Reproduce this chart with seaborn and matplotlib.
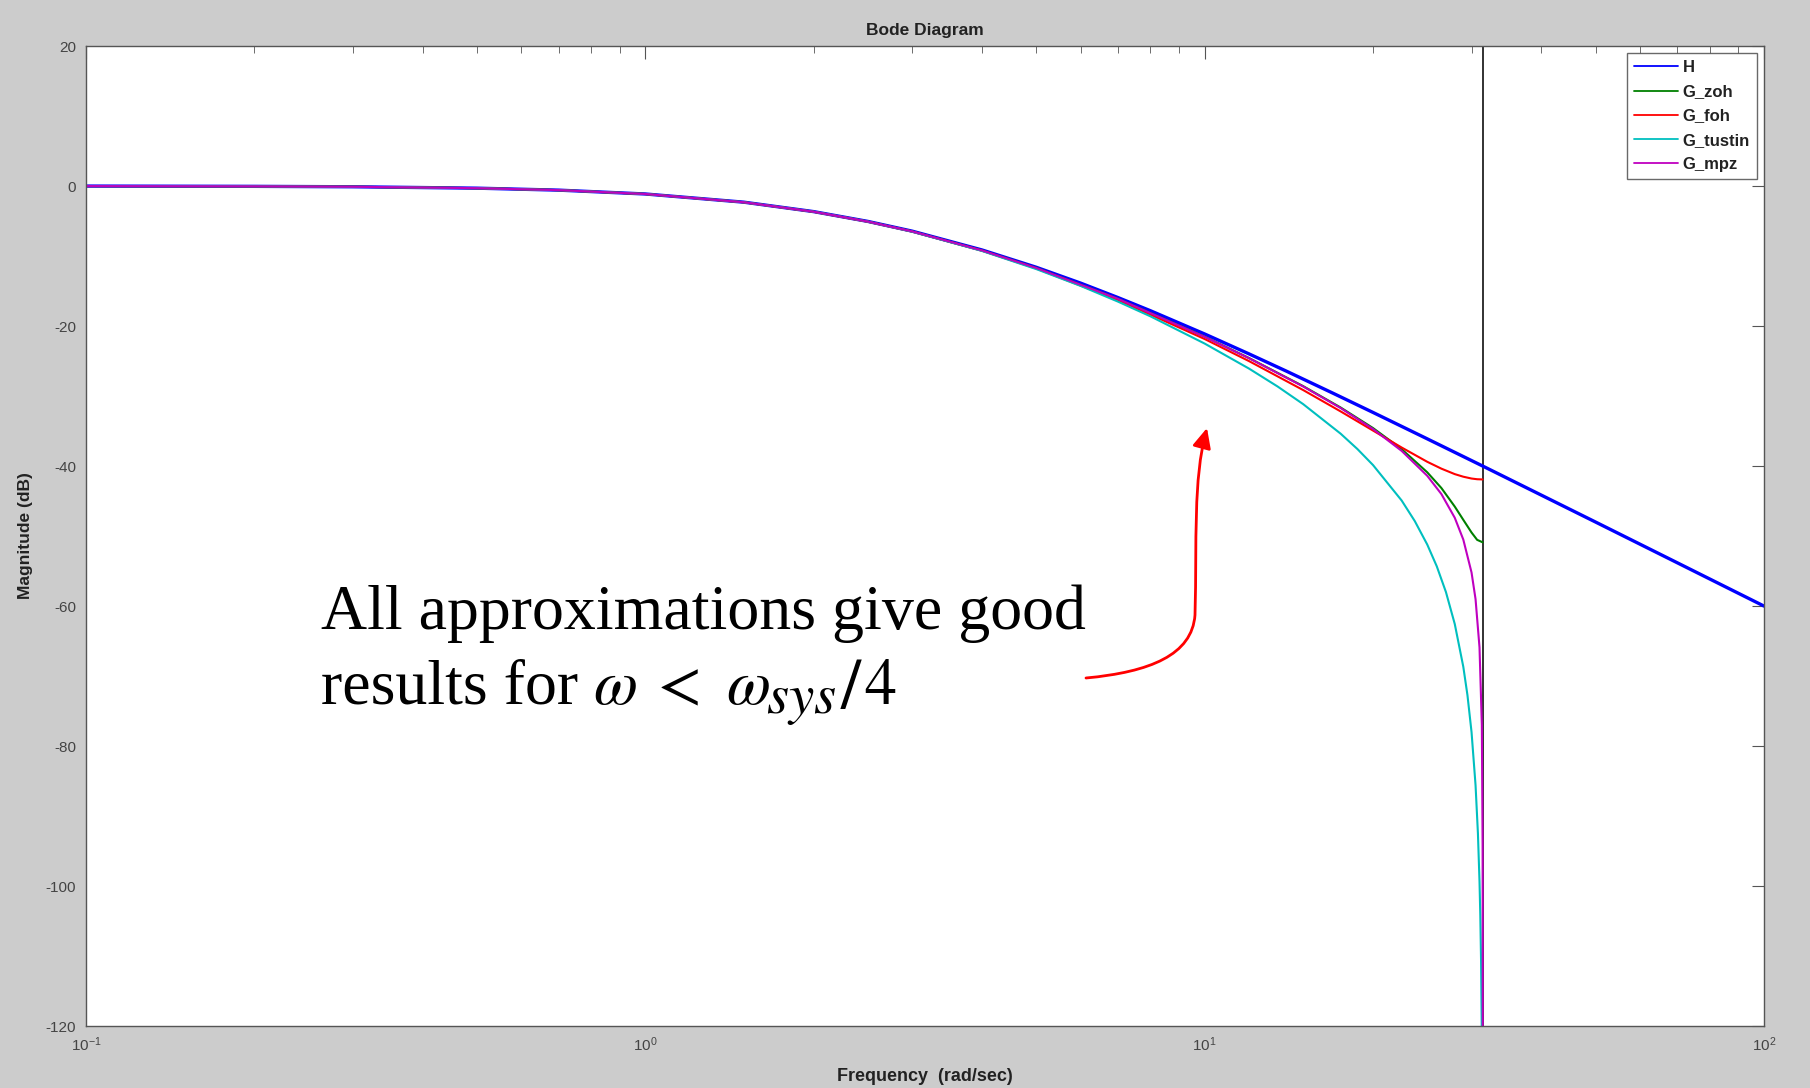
import numpy as np
import pandas as pd
import matplotlib
matplotlib.use("Agg")
import matplotlib.pyplot as plt
import seaborn as sns
from matplotlib.path import Path
from matplotlib.patches import FancyArrowPatch

# magnitude values (dB)
w_h = [0.1, 0.2, 0.3, 0.5, 0.7, 1, 1.5, 2, 2.5, 3, 4, 5, 6, 7, 8, 10, 12, 14, 17,
       20, 25, 31.4, 50, 70, 100]
mag_h = [-0.01, -0.05, -0.11, -0.31, -0.59, -1.14, -2.31, -3.66, -5.06, -6.45, -9.14,
         -11.61, -13.87, -15.94, -17.82, -21.14, -23.98, -26.45, -29.64, -32.35,
         -36.12, -40.0, -48.01, -53.83, -60.01]

w_zoh = [0.1, 0.2, 0.3, 0.5, 0.7, 1, 1.5, 2, 2.5, 3, 4, 5, 7, 10, 12, 15, 17.5, 20,
         22.5, 25, 26.5, 28, 29, 30, 30.7, 31.4]
mag_zoh = [-0.01, -0.05, -0.11, -0.31, -0.59, -1.14, -2.32, -3.67, -5.08, -6.48, -9.20,
           -11.70, -16.12, -21.53, -24.57, -28.59, -31.64, -34.58, -37.59, -40.9,
           -43.15, -45.8, -47.69, -49.5, -50.55, -50.9]

w_foh = [0.1, 0.2, 0.3, 0.5, 0.7, 1, 1.5, 2, 2.5, 3, 4, 5, 7, 10, 12, 15, 17.5, 20,
         22.5, 25, 26.5, 28, 29, 30, 30.7, 31.4]
mag_foh = [-0.01, -0.05, -0.11, -0.31, -0.59, -1.15, -2.33, -3.69, -5.11, -6.52, -9.26,
           -11.79, -16.29, -21.86, -25.01, -29.15, -32.20, -34.94, -37.36, -39.40,
           -40.38, -41.16, -41.53, -41.79, -41.89, -41.92]

w_tus = [0.1, 0.2, 0.3, 0.5, 0.7, 1, 1.5, 2, 2.5, 3, 4, 5, 6, 7, 8, 10, 12, 13.5, 15,
         17.5, 18.75, 20, 22.5, 23.75, 25, 26, 27, 28, 29, 29.5, 30, 30.5, 30.8, 31,
         31.1, 31.2, 31.3]
mag_tus = [-0.01, -0.05, -0.11, -0.31, -0.59, -1.14, -2.32, -3.67, -5.09, -6.52, -9.28,
           -11.87, -14.27, -16.52, -18.62, -22.51, -26.08, -28.64, -31.16, -35.38,
           -37.57, -39.87, -44.93, -47.87, -51.22, -54.33, -58.01, -62.58, -68.68,
           -72.74, -78.01, -85.6, -92.5, -99.32, -104.1, -110.7, -121.5]

w_mpz = [0.1, 0.2, 0.3, 0.5, 0.7, 1, 1.5, 2, 2.5, 3, 4, 5, 7, 10, 12, 15, 17.5, 20,
         22.5, 25, 26.5, 28, 29, 30, 30.5, 31, 31.3, 31.4, 31.41, 31.415, 31.4158]
mag_mpz = [-0.01, -0.05, -0.11, -0.31, -0.59, -1.14, -2.32, -3.67, -5.08, -6.48, -9.20,
           -11.71, -16.12, -21.55, -24.60, -28.64, -31.72, -34.72, -37.84, -41.40,
           -44.01, -47.40, -50.51, -55.21, -59.02, -65.9, -77.0, -94.2, -102.8, -118.9,
           -136.0]

nyquist = 31.4159
names = ['H', 'G_zoh', 'G_foh', 'G_tustin', 'G_mpz']
colors = ['#0000ff', '#008000', '#ff0000', '#00bfbf', '#bf00bf']
y_ticks = [20, 0, -20, -40, -60, -80, -100, -120]

sns.set_style("white")
plt.rcParams['font.family'] = ['Liberation Sans', 'DejaVu Sans']
plt.rcParams['axes.unicode_minus'] = False
plt.rcParams['mathtext.fontset'] = 'stix'

fig = plt.figure(figsize=(18.1, 10.88), dpi=100, facecolor='#cccccc')
ax = fig.add_axes([86 / 1810, 1 - 1026 / 1088, 1678 / 1810, 980 / 1088])
ax.set_facecolor('white')

series = [(w_h, mag_h), (w_zoh, mag_zoh), (w_foh, mag_foh), (w_tus, mag_tus), (w_mpz, mag_mpz)]
for (w, m), name, col in zip(series, names, colors):
    df = pd.DataFrame({'w': w, 'mag': m})
    sns.lineplot(data=df, x='w', y='mag', ax=ax, color=col, lw=2.4 if name == 'H' else 1.5,
                 label=name, estimator=None, sort=False)

ax.axvline(nyquist, color='#222222', lw=1.3, zorder=1)

ax.set_xscale('log')
ax.set_xlim(0.1, 100)
ax.set_ylim(-120, 20)
ax.set_yticks(y_ticks)
ax.tick_params(which='both', direction='in', top=True, right=True, color='#555555',
               labelsize=11, labelcolor='#444444', pad=7)
ax.tick_params(which='major', length=9)
ax.tick_params(which='minor', length=5)
ax.minorticks_off()
ax.xaxis.set_minor_locator(matplotlib.ticker.LogLocator(base=10, subs=np.arange(2, 10)))
ax.xaxis.set_minor_formatter(matplotlib.ticker.NullFormatter())
for sp in ax.spines.values():
    sp.set_color('#555555')
    sp.set_linewidth(1.0)

ax.set_title('Bode Diagram', fontsize=12.5, fontweight='bold', color='#222222', pad=8)
ax.set_xlabel('Frequency  (rad/sec)', fontsize=13, fontweight='bold', color='#222222',
              labelpad=10)
ax.set_ylabel('Magnitude (dB)', fontsize=12.5, fontweight='bold', color='#222222',
              labelpad=9)

leg = ax.legend(loc='upper right', fontsize=12, frameon=True, fancybox=False,
                borderaxespad=0.4, handlelength=2.6, labelspacing=0.55,
                borderpad=0.45, handletextpad=0.3)
leg.get_frame().set_edgecolor('#444444')
leg.get_frame().set_linewidth(1.0)
for t in leg.get_texts():
    t.set_fontweight('bold')
    t.set_color('#222222')
for l in leg.get_lines():
    l.set_linewidth(1.3)


def ftext(x, y, s, size=46, **kw):
    # place text by figure pixel position (baseline)
    fig.text(x / 1810, 1 - y / 1088, s, fontsize=size, va='baseline', ha='left',
             color='black', **kw)


# annotation text and the red curved arrow
ftext(321, 629, 'All approximations give good', family='Liberation Serif')
ftext(321, 704, 'results for', family='Liberation Serif')
ftext(593, 704, r'$\omega$')
ftext(648, 704, r'$<$')
ftext(726, 704, r'$\omega$')
ftext(766, 713, r'$sys$', size=41)
ftext(840, 708, r'$/$', size=52)
ftext(864, 704, r'$4$')

pts = [(1086, 678), (1150, 672), (1192, 655), (1195, 615),
       (1197, 540), (1193, 480), (1207, 428)]
verts = [(x / 1810, 1 - y / 1088) for x, y in pts]
codes = [Path.MOVETO, Path.CURVE4, Path.CURVE4, Path.CURVE4,
         Path.CURVE4, Path.CURVE4, Path.CURVE4]
arrow = FancyArrowPatch(path=Path(verts, codes), transform=fig.transFigure,
                        arrowstyle='-|>,head_length=0.6,head_width=0.28',
                        mutation_scale=20, color='red', lw=2.0)
fig.patches.append(arrow)

fig.savefig('out.png', dpi=100, facecolor=fig.get_facecolor())
